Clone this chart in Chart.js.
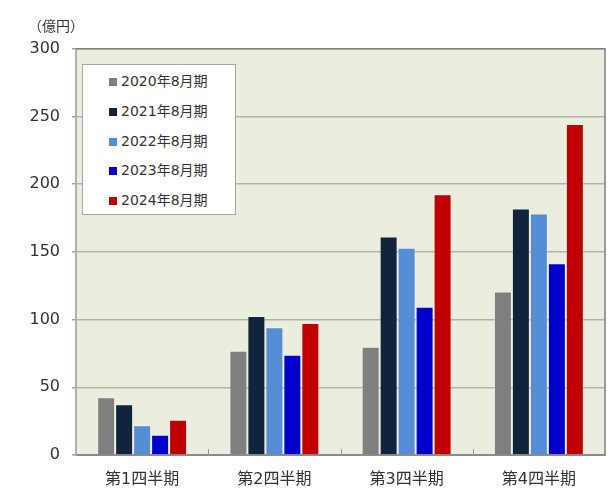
<!DOCTYPE html>
<html>
<head>
<meta charset="utf-8">
<script src="https://cdn.jsdelivr.net/npm/chart.js@4"></script>
<style>
  html, body { margin: 0; padding: 0; background: #fff; }
  #wrap { position: relative; width: 610px; height: 500px; }
  #legend {
    position: absolute; left: 82px; top: 64px; width: 154px; height: 151px;
    background: #fff; border: 1px solid #a6a6a6;
    padding: 2px 0 0 26px; box-sizing: border-box;
    font: 14px "DejaVu Sans", "Noto Sans CJK JP", sans-serif; color: #333;
  }
  #legend div { height: 29.8px; line-height: 29.8px; white-space: nowrap; }
  #legend span { display: inline-block; width: 8px; height: 8px; margin-right: 4px; vertical-align: 0px; }
</style>
</head>
<body>
<div id="wrap">
  <canvas id="out" width="610" height="500"></canvas>
  <div id="legend"></div>
</div>
<script>
// 四半期ごとの売上（億円）
const quarters = ["第1四半期", "第2四半期", "第3四半期", "第4四半期"];
const seriesNames = ["2020年8月期", "2021年8月期", "2022年8月期", "2023年8月期", "2024年8月期"];
const fy2020 = [42.6, 77, 80, 120.7];
const fy2021 = [37.5, 102.7, 161.3, 182];
const fy2022 = [22, 94.4, 153, 178.3];
const fy2023 = [15, 74, 109.4, 141.6];
const fy2024 = [26, 97.5, 192.6, 244.4];
const seriesColors = ["#7f7f7f", "#10243e", "#558ed5", "#0000cc", "#c00000"];
const yTicks = [0, 50, 100, 150, 200, 250, 300];

const font = "'DejaVu Sans', 'Noto Sans CJK JP', sans-serif";
const allData = [fy2020, fy2021, fy2022, fy2023, fy2024];

const datasets = seriesNames.map((name, i) => ({
  label: name,
  data: allData[i],
  backgroundColor: seriesColors[i],
  borderColor: "rgba(255,255,255,0.3)",
  borderWidth: 1,
  barPercentage: 1,
  categoryPercentage: 0.68
}));

// 凡例
const legendBox = document.getElementById("legend");
seriesNames.forEach((name, i) => {
  const row = document.createElement("div");
  row.innerHTML = '<span style="background:' + seriesColors[i] + '"></span>' + name;
  legendBox.appendChild(row);
});

const plotBg = {
  id: "plotBg",
  beforeDraw(chart) {
    const a = chart.chartArea, ctx = chart.ctx;
    ctx.save();
    ctx.fillStyle = "#ebeede";
    ctx.fillRect(a.left, a.top, a.right - a.left, a.bottom - a.top);
    ctx.restore();
  },
  afterDraw(chart) {
    const a = chart.chartArea, ctx = chart.ctx, x = chart.scales.x;
    ctx.save();
    // 上と右の枠
    ctx.strokeStyle = "#7f7f7f";
    ctx.lineWidth = 1.5;
    ctx.beginPath();
    ctx.moveTo(a.left, a.top);
    ctx.lineTo(a.right, a.top);
    ctx.lineTo(a.right, a.bottom);
    ctx.stroke();
    // 区切りの目盛り
    ctx.strokeStyle = "#999";
    ctx.lineWidth = 1;
    for (let i = 1; i < quarters.length; i++) {
      const xb = Math.round((x.getPixelForTick(i - 1) + x.getPixelForTick(i)) / 2) + 0.5;
      ctx.beginPath();
      ctx.moveTo(xb, a.bottom);
      ctx.lineTo(xb, a.bottom - 6);
      ctx.stroke();
    }
    ctx.restore();
  }
};

new Chart(document.getElementById("out").getContext("2d"), {
  type: "bar",
  data: { labels: quarters, datasets: datasets },
  options: {
    responsive: false,
    animation: false,
    layout: { padding: { left: 28, right: 5, top: 0, bottom: 0 } },
    plugins: {
      legend: { display: false },
      tooltip: { enabled: false },
      title: {
        display: true,
        text: "（億円）",
        align: "start",
        color: "#333",
        font: { family: font, size: 14, weight: "normal" },
        padding: { top: 19, bottom: 13 }
      }
    },
    scales: {
      x: {
        afterFit(scale) { scale.height = 45; },
        grid: { display: false, drawTicks: false },
        border: { display: true, color: "#8c8c8c", width: 2 },
        ticks: { color: "#333", font: { family: font, size: 16 }, padding: 15 }
      },
      y: {
        min: 0,
        max: 300,
        afterFit(scale) { scale.width = 48; },
        afterBuildTicks(scale) { scale.ticks = yTicks.map(v => ({ value: v })); },
        grid: { color: "#b0b3a8", lineWidth: 1.5, tickLength: 4, tickColor: "#a0a0a0" },
        border: { display: true, color: "#b0b0b0", width: 2 },
        ticks: { color: "#333", font: { family: font, size: 16 }, padding: 12 }
      }
    }
  },
  plugins: [plotBg]
});
</script>
</body>
</html>
